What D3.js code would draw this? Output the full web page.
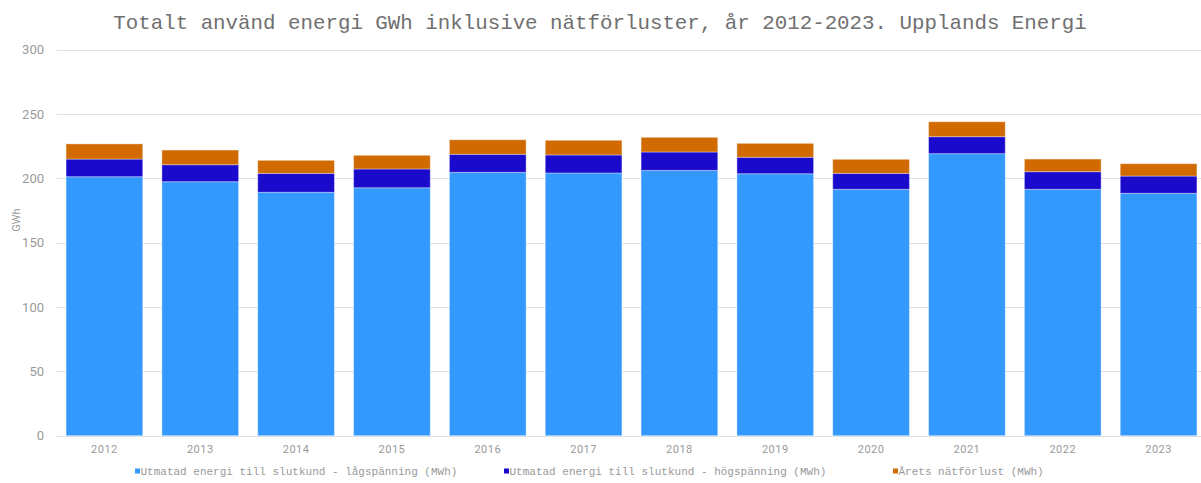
<!DOCTYPE html>
<html>
<head>
<meta charset="utf-8">
<script src="https://cdn.jsdelivr.net/npm/d3@7"></script>
<style>
  html, body { margin: 0; padding: 0; background: #fff; }
  svg { display: block; }
</style>
</head>
<body>
<svg id="chart" width="1201" height="483"></svg>
<script>
const years = ["2012","2013","2014","2015","2016","2017","2018","2019","2020","2021","2022","2023"];
const lowVoltage  = [201.3, 197.4, 189.2, 192.7, 204.7, 204.2, 206.2, 203.6, 191.5, 219.2, 191.5, 188.4];
const highVoltage = [13.7, 13.2, 14.7, 14.6, 14.0, 14.0, 14.3, 12.8, 12.4, 13.2, 13.7, 13.4];
const netLoss     = [11.8, 11.4, 10.1, 10.6, 11.3, 11.4, 11.4, 10.8, 10.9, 11.6, 9.8, 9.6];
const seriesNames = [
  "Utmatad energi till slutkund - lågspänning (MWh)",
  "Utmatad energi till slutkund - högspänning (MWh)",
  "Årets nätförlust (MWh)"
];
const seriesColors = ["#3399ff", "#1a0acc", "#d16a00"];
const yTicks = [0, 50, 100, 150, 200, 250, 300];
const titleText = "Totalt använd energi GWh inklusive nätförluster, år 2012-2023. Upplands Energi";
const yAxisTitle = "GWh";

(function () {
const svg = d3.select("#chart");
const W = 1201, H = 483;
const mLeft = 56.5, mRight = 1206.5, mTop = 49.7, mBottom = 435.7;

const x = d3.scaleBand().domain(years).range([mLeft, mRight]).paddingInner(0.2).paddingOuter(0.1);
const y = d3.scaleLinear().domain([0, 300]).range([mBottom, mTop]);

// gridlines
svg.append("g").selectAll("line").data(yTicks).join("line")
  .attr("x1", mLeft).attr("x2", W)
  .attr("y1", d => Math.round(y(d)) + 0.5).attr("y2", d => Math.round(y(d)) + 0.5)
  .attr("stroke", "#e0e0e0").attr("stroke-width", 1);

// y tick labels
svg.append("g").selectAll("text").data(yTicks).join("text")
  .attr("x", 44).attr("y", d => y(d) + 4.5)
  .attr("text-anchor", "end")
  .attr("font-family", "Roboto, 'Noto Sans', sans-serif")
  .attr("font-size", 13).attr("fill", "#9a9a9a")
  .text(d => d);

// y axis title
svg.append("text")
  .attr("transform", "translate(20,220) rotate(-90)")
  .attr("text-anchor", "middle")
  .attr("font-family", "Roboto, 'Noto Sans', sans-serif")
  .attr("font-size", 11).attr("fill", "#999")
  .text(yAxisTitle);

// stacked data
const rows = years.map((yr, i) => ({ year: yr, a: lowVoltage[i], b: highVoltage[i], c: netLoss[i] }));
const stack = d3.stack().keys(["a", "b", "c"])(rows);

svg.append("g").selectAll("g").data(stack).join("g")
  .attr("fill", (d, i) => seriesColors[i])
  .selectAll("rect").data(d => d).join("rect")
  .attr("x", d => x(d.data.year))
  .attr("width", x.bandwidth())
  .attr("y", d => y(d[1]))
  .attr("height", d => y(d[0]) - y(d[1]))
  .attr("stroke", "rgba(255,255,255,0.35)")
  .attr("stroke-width", 1);

// x labels
svg.append("g").selectAll("text").data(years).join("text")
  .attr("x", d => x(d) + x.bandwidth() / 2).attr("y", 453)
  .attr("text-anchor", "middle")
  .attr("font-family", "Roboto, 'Noto Sans', sans-serif")
  .attr("font-size", 11).attr("fill", "#999")
  .attr("letter-spacing", 0.5)
  .text(d => d);

// title
svg.append("text")
  .attr("x", 600).attr("y", 29)
  .attr("text-anchor", "middle")
  .attr("font-family", "'Liberation Mono', 'DejaVu Sans Mono', monospace")
  .attr("font-size", 20.8).attr("fill", "#707070")
  .text(titleText);

// legend
const legendX = [135, 504, 893];
const lg = svg.append("g").selectAll("g").data(seriesNames).join("g")
  .attr("transform", (d, i) => `translate(${legendX[i]},475)`);
lg.append("rect").attr("x", 0).attr("y", -6.5).attr("width", 5).attr("height", 5)
  .attr("fill", (d, i) => seriesColors[i]);
lg.append("text").attr("x", 5.5).attr("y", 0)
  .attr("font-family", "'Liberation Mono', 'DejaVu Sans Mono', monospace")
  .attr("font-size", 11).attr("fill", "#999")
  .text(d => d);
})();
</script>
</body>
</html>
